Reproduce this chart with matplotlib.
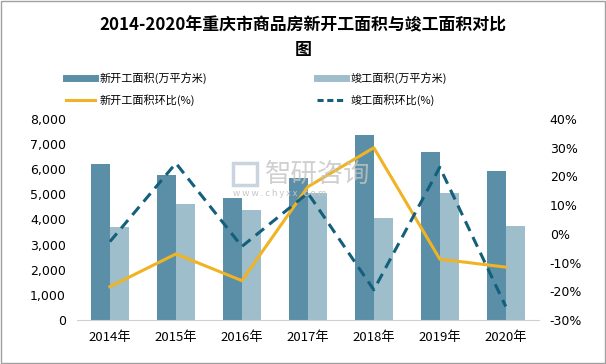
import matplotlib.pyplot as plt
import numpy as np
from matplotlib.lines import Line2D
from matplotlib.patches import Rectangle

plt.rcParams['font.family'] = ['Noto Sans CJK SC', 'DejaVu Sans']

years = ["2014年", "2015年", "2016年", "2017年", "2018年", "2019年", "2020年"]
new_area = [6215, 5780, 4860, 5660, 7370, 6690, 5940]
done_area = [3705, 4620, 4380, 5060, 4065, 5060, 3745]
new_pct = [-18.4, -7.0, -16.3, 16.4, 30.0, -8.8, -11.6]
done_pct = [-2.7, 24.6, -4.4, 14.2, -19.5, 23.2, -25.3]

c_new = "#5b8fa7"
c_done = "#9fbecb"
c_line1 = "#f0b324"
c_line2 = "#135f7c"

fig = plt.figure(figsize=(6.06, 3.64), dpi=100)
ax = fig.add_axes([0.127, 0.121, 0.762, 0.552])
x = np.arange(len(years))
w = 0.285
ax.bar(x - w / 2, new_area, w, color=c_new)
ax.bar(x + w / 2, done_area, w, color=c_done)
ax.set_xlim(-0.5, len(years) - 0.5)
ax.set_ylim(0, 8000)
ax.set_yticks(range(0, 8001, 1000))
ax.set_yticklabels([f"{v:,}" for v in range(0, 8001, 1000)], fontsize=9, family='DejaVu Sans')
ax.set_xticks(x)
ax.set_xticklabels(years, fontsize=9.5)
for s in ["top", "right", "left"]:
    ax.spines[s].set_visible(False)
ax.spines["bottom"].set_color("#d0d0d0")
ax.tick_params(axis="both", length=0)
ax.tick_params(axis="y", pad=8)
ax.tick_params(axis="x", pad=8)

ax2 = ax.twinx()
ax2.plot(x, new_pct, color=c_line1, lw=2.2)
ax2.plot(x, done_pct, color=c_line2, lw=2.2, ls=(0, (3.5, 2.2)))
ax2.set_ylim(-30, 40)
ax2.set_yticks(range(-30, 41, 10))
ax2.set_yticklabels([f"{v}%" for v in range(-30, 41, 10)], fontsize=9, family='DejaVu Sans')
for s in ["top", "right", "left", "bottom"]:
    ax2.spines[s].set_visible(False)
ax2.tick_params(axis="y", length=0, pad=8)

# watermark
fig.patches.append(Rectangle((233 / 606, 1 - 185 / 364), 24 / 606, 22 / 364, transform=fig.transFigure,
                             fill=False, edgecolor="#c9d4df", lw=2.5, zorder=0))
fig.text(265 / 606, 1 - 174 / 364, "智研咨询", fontsize=19, color="#c4c4c4", alpha=0.8,
         ha="left", va="center", zorder=0)
fig.text(233 / 606, 1 - 194 / 364, "w w w . c h y x x . c o m", fontsize=6.5, color="#c4c4c4",
         ha="left", va="center", zorder=0)

fig.text(0.5, 0.93, "2014-2020年重庆市商品房新开工面积与竣工面积对比", fontsize=12.2,
         fontweight="bold", ha="center", va="center")
fig.text(0.5, 0.863, "图", fontsize=12.2, fontweight="bold", ha="center", va="center")

handles = [Line2D([], [], color=c_new, lw=5),
           Line2D([], [], color=c_line1, lw=2.2),
           Line2D([], [], color=c_done, lw=5),
           Line2D([], [], color=c_line2, lw=2.2, ls=(0, (2, 1.2)))]
labels = ["新开工面积(万平方米)", "新开工面积环比(%)", "竣工面积(万平方米)", "竣工面积环比(%)"]
fig.legend(handles, labels, loc="upper left", bbox_to_anchor=(66 / 606, 1 - 72 / 364), ncol=2,
           frameon=False, fontsize=8, columnspacing=9.9, handlelength=2.6, handletextpad=0.4,
           labelspacing=0.9, borderpad=0, borderaxespad=0)

fig.patches.append(Rectangle((0.001, 0.002), 0.997, 0.995, transform=fig.transFigure,
                             fill=False, edgecolor="#a0a0a0", lw=1))

fig.savefig("out.png", dpi=100)
